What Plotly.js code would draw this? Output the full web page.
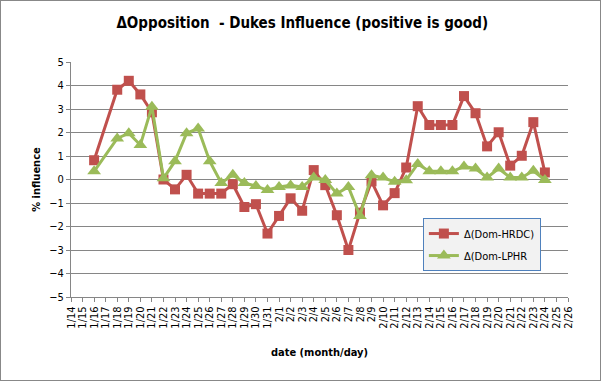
<!DOCTYPE html>
<html>
<head>
<meta charset="utf-8">
<script src="https://cdn.plot.ly/plotly-3.0.1.min.js"></script>
<style>
html,body{margin:0;padding:0;background:#fff;}
#wrap{position:relative;width:601px;height:381px;}
#chart{width:601px;height:381px;}
#frame{position:absolute;left:0;top:0;width:599px;height:379px;border:1px solid #888;pointer-events:none;}
</style>
</head>
<body>
<div id="wrap"><div id="chart"></div><div id="frame"></div></div>
<script>
const dates = ["1/14","1/15","1/16","1/17","1/18","1/19","1/20","1/21","1/22","1/23","1/24","1/25","1/26","1/27","1/28","1/29","1/30","1/31","2/1","2/2","2/3","2/4","2/5","2/6","2/7","2/8","2/9","2/10","2/11","2/12","2/13","2/14","2/15","2/16","2/17","2/18","2/19","2/20","2/21","2/22","2/23","2/24","2/25","2/26"];

const seriesDates = ["1/16","1/18","1/19","1/20","1/21","1/22","1/23","1/24","1/25","1/26","1/27","1/28","1/29","1/30","1/31","2/1","2/2","2/3","2/4","2/5","2/6","2/7","2/8","2/9","2/10","2/11","2/12","2/13","2/14","2/15","2/16","2/17","2/18","2/19","2/20","2/21","2/22","2/23","2/24"];

const hrdc = [0.82,3.82,4.2,3.62,2.86,0.0,-0.42,0.2,-0.6,-0.6,-0.6,-0.2,-1.17,-1.05,-2.3,-1.55,-0.8,-1.33,0.4,-0.24,-1.52,-3.0,-1.41,-0.08,-1.1,-0.58,0.51,3.12,2.32,2.32,2.32,3.55,2.82,1.41,2.01,0.59,1.01,2.44,0.3];

const lphr = [0.35,1.75,1.97,1.47,3.1,0.05,0.78,1.97,2.17,0.78,-0.15,0.2,-0.15,-0.28,-0.45,-0.32,-0.25,-0.32,0.08,-0.02,-0.6,-0.32,-1.55,0.18,0.08,-0.1,-0.03,0.66,0.35,0.35,0.35,0.55,0.47,0.08,0.47,0.08,0.08,0.37,-0.02];

const names = ["\u0394(Dom-HRDC)","\u0394(Dom-LPHR"];

const F = "DejaVu Sans Condensed, DejaVu Sans";

const traces = [
  {x: seriesDates, y: hrdc, name: names[0], legendgroup: "a", type: "scatter", mode: "lines+markers",
   line: {color: "#c0504d", width: 3}, marker: {symbol: "square", size: 10, color: "#c0504d"}},
  {x: seriesDates, y: lphr, name: names[1], legendgroup: "b", type: "scatter", mode: "lines+markers",
   line: {color: "#9bbb59", width: 3}, marker: {symbol: "triangle-up", size: 12, color: "#9bbb59"}}
];

const layout = {
  width: 601, height: 381,
  margin: {l: 71, r: 33, t: 62, b: 84},
  paper_bgcolor: "#fff", plot_bgcolor: "#fff",
  font: {family: F, color: "#000"},
  title: {text: "<b>\u0394Opposition  - Dukes Influence (positive is good)</b>",
          font: {family: F, size: 15, color: "#000"},
          x: 0.503, xanchor: "center", y: 0.94, yanchor: "middle"},
  xaxis: {type: "category", categoryorder: "array", categoryarray: dates,
          tickmode: "array", tickvals: dates, ticktext: dates,
          range: [0, 43], tickangle: -90, tickfont: {size: 11, family: F},
          showgrid: false, showline: true, linecolor: "#868686", linewidth: 1,
          ticks: "outside", ticklen: 4, tickcolor: "#868686", zeroline: false,
          title: {text: "<b>date (month/day)</b>", font: {size: 11, family: F}, standoff: 20}},
  yaxis: {range: [-5, 5], dtick: 1, tickfont: {size: 11, family: F},
          showgrid: true, gridcolor: "#868686", gridwidth: 1, zeroline: false,
          showline: true, linecolor: "#868686", ticks: "outside", ticklen: 4, tickcolor: "#868686",
          title: {text: "<b>% influence</b>", font: {size: 11, family: F}, standoff: 6}},
  showlegend: true,
  legend: {x: 0.708, y: 0.336, xanchor: "left", yanchor: "top", traceorder: "grouped",
           bgcolor: "#f2f2f2", bordercolor: "#4f81bd", borderwidth: 1, itemwidth: 30,
           font: {size: 11, family: F}, tracegroupgap: 3}
};

Plotly.newPlot("chart", traces, layout, {staticPlot: true, displayModeBar: false});
</script>
</body>
</html>
